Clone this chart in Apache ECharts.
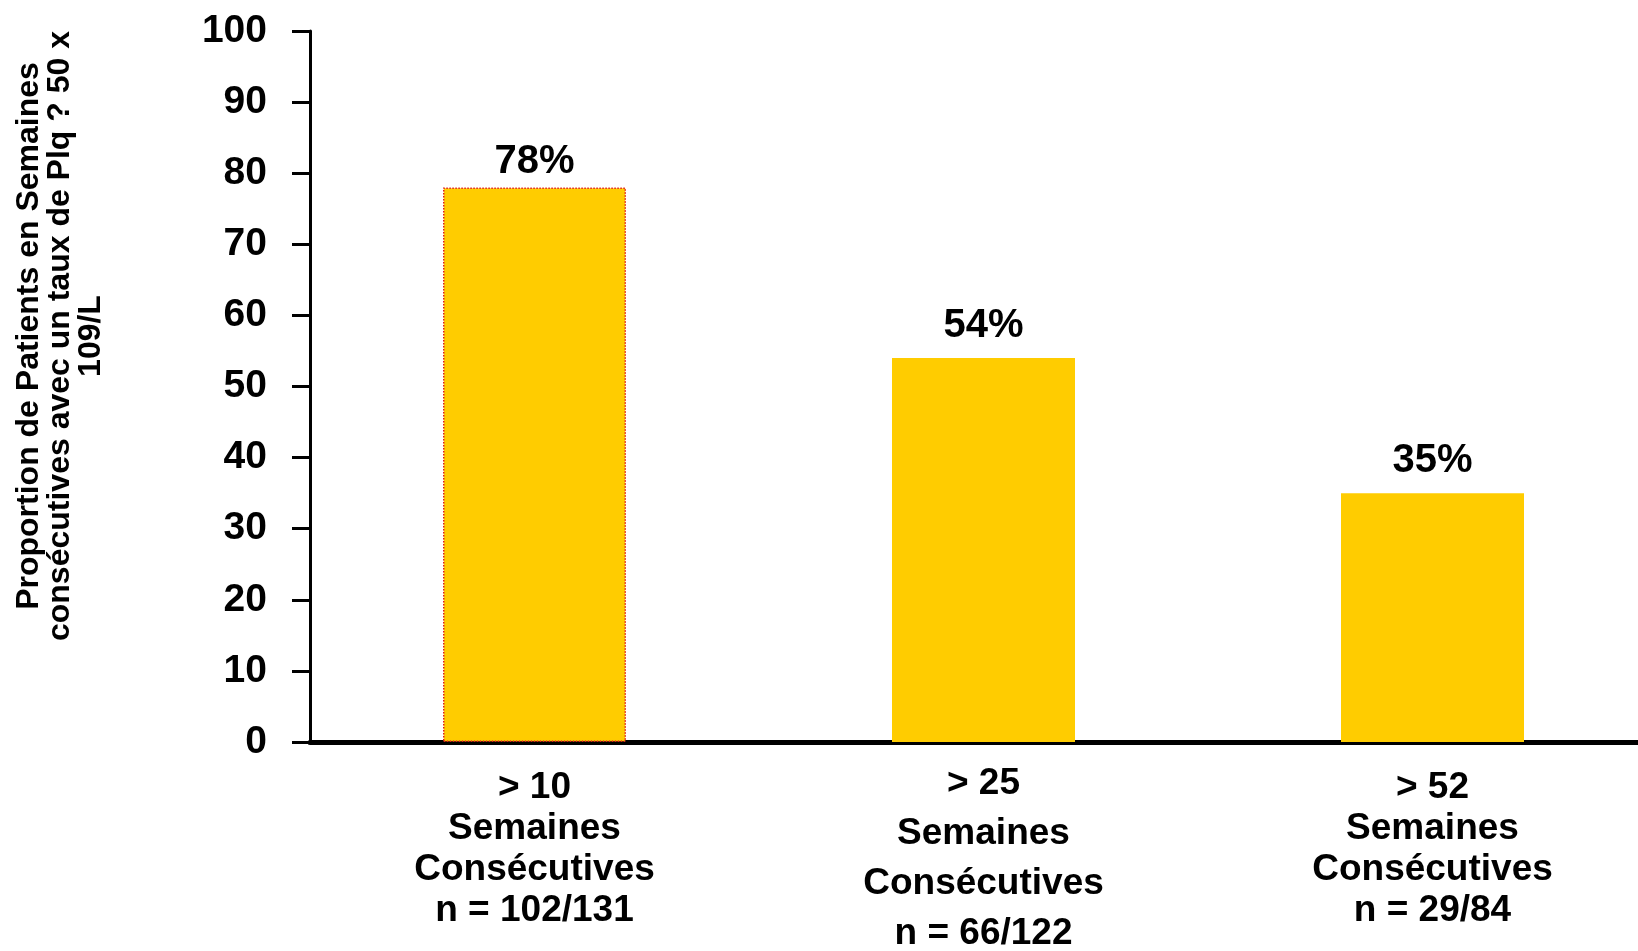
<!DOCTYPE html>
<html>
<head>
<meta charset="utf-8">
<script src="https://cdn.jsdelivr.net/npm/echarts@6/dist/echarts.min.js"></script>
<style>
  html, body { margin: 0; padding: 0; background: #fff; }
  #chart { width: 1638px; height: 951px; }
</style>
</head>
<body>
<div id="chart"></div>
<script>
const categories = [
    "> 10\nSemaines\nConsécutives\nn = 102/131",
    "> 25\nSemaines\nConsécutives\nn = 66/122",
    "> 52\nSemaines\nConsécutives\nn = 29/84"
];
const values = [78, 54, 35];
const yTitle = "Proportion de Patients en Semaines\nconsécutives avec un taux de Plq ? 50 x\n109/L";

const FONT = '"Liberation Sans", Arial, sans-serif';

const chart = echarts.init(document.getElementById("chart"));

const options = {
    animation: false,
    grid: { left: 310, top: 31, width: 1347, bottom: 209, outerBoundsMode: "none" },
    graphic: [{
        type: "text",
        x: 60,
        y: 336,
        rotation: Math.PI / 2,
        style: {
            text: yTitle,
            font: "bold 32px " + FONT,
            fill: "#000",
            align: "center",
            verticalAlign: "middle",
            lineHeight: 31
        }
    }],
    xAxis: {
        type: "category",
        data: categories.map((c, i) => ({
            value: c,
            textStyle: i === 1 ? { lineHeight: 50, padding: [-8, 0, 0, 0] } : { lineHeight: 41 }
        })),
        axisLine: { lineStyle: { color: "#000", width: 5 } },
        axisTick: { show: false },
        axisLabel: {
            color: "#000",
            fontFamily: FONT,
            fontWeight: "bold",
            fontSize: 37,
            margin: 25,
            interval: 0
        }
    },
    yAxis: {
        type: "value",
        min: 0,
        max: 100,
        interval: 10,
        splitLine: { show: false },
        axisLine: { show: true, lineStyle: { color: "#000", width: 3 } },
        axisTick: { show: true, length: 18, lineStyle: { color: "#000", width: 3 } },
        axisLabel: {
            color: "#000",
            fontFamily: FONT,
            fontWeight: "bold",
            fontSize: 39,
            margin: 43
        }
    },
    series: [{
        type: "bar",
        barWidth: 183,
        data: values.map((v, i) => i === 0
            ? {
                value: v,
                itemStyle: { borderColor: "#e0201a", borderWidth: 1.5, borderType: "dotted" },
                label: { distance: 5 }
            }
            : v),
        itemStyle: { color: "#FFCC00" },
        label: {
            show: true,
            position: "top",
            distance: 12,
            formatter: "{c}%",
            color: "#000",
            fontFamily: FONT,
            fontWeight: "bold",
            fontSize: 40
        }
    }]
};
chart.setOption(options);
</script>
</body>
</html>
